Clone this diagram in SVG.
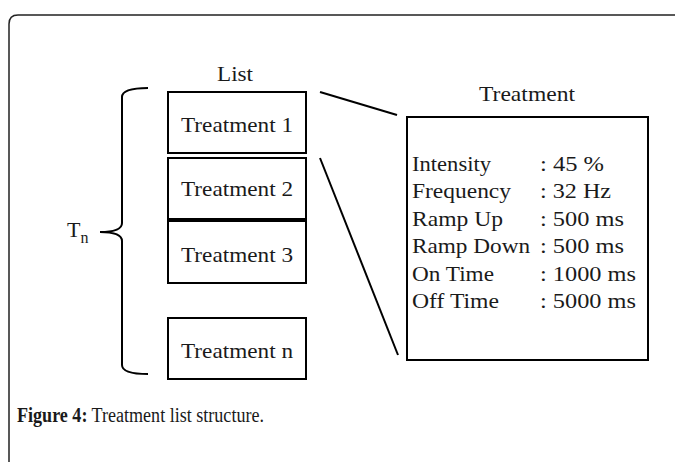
<svg xmlns="http://www.w3.org/2000/svg" width="675" height="462" viewBox="0 0 675 462">
  <style>
    .txt { font-family: "Liberation Serif", "Times New Roman", serif; font-size: 22px; fill: #1a1a1a; }
    .mid { text-anchor: middle; }
    .box { fill: #ffffff; stroke: #000000; stroke-width: 2; }
    .ln { fill: none; stroke: #000000; stroke-width: 2; }
    .cap { font-family: "Liberation Serif", "Times New Roman", serif; font-size: 20px; fill: #1a1a1a; }
  </style>

  <rect x="0" y="0" width="675" height="462" fill="#ffffff"/>

  <!-- panel frame (top and left edges visible) -->
  <path d="M9,470 L9,24 Q9,15 18,15 L690,15" fill="none" stroke="#222222" stroke-width="1.5"/>

  <!-- list heading -->
  <text class="txt mid" x="235" y="81" font-size="20" textLength="36" lengthAdjust="spacingAndGlyphs">List</text>

  <!-- connectors: brace and zoom lines -->
  <g id="connectors">
    <path class="ln" d="M148,88 Q122,88 122,97 L122,223 Q122,232 100,232 Q122,232 122,241 L122,365 Q122,374 148,374"/>
    <line class="ln" x1="320" y1="92" x2="397" y2="115"/>
    <line class="ln" x1="320" y1="158" x2="398" y2="355"/>
  </g>

  <g id="tn-label">
    <text class="txt" x="67" y="237" font-size="19">T<tspan font-size="16" dy="6">n</tspan></text>
  </g>

  <g id="treatment-1">
    <rect class="box" x="168" y="92" width="138" height="61"/>
    <text class="txt mid" x="237" y="132" textLength="112" lengthAdjust="spacingAndGlyphs">Treatment 1</text>
  </g>
  <g id="treatment-2">
    <rect class="box" x="168" y="158" width="138" height="62"/>
    <text class="txt mid" x="237" y="196" textLength="112" lengthAdjust="spacingAndGlyphs">Treatment 2</text>
  </g>
  <g id="treatment-3">
    <rect class="box" x="168" y="220" width="138" height="63"/>
    <line x1="167" y1="220" x2="307" y2="220" stroke="#000000" stroke-width="4"/>
    <text class="txt mid" x="237" y="262" textLength="112" lengthAdjust="spacingAndGlyphs">Treatment 3</text>
  </g>
  <g id="treatment-n">
    <rect class="box" x="168" y="318" width="138" height="61"/>
    <text class="txt mid" x="237" y="358" textLength="112" lengthAdjust="spacingAndGlyphs">Treatment n</text>
  </g>

  <g id="treatment-detail">
    <text class="txt mid" x="527" y="101" font-size="20" textLength="96" lengthAdjust="spacingAndGlyphs">Treatment</text>
    <rect class="box" x="407" y="117" width="241" height="243"/>
    <g class="txt">
      <text x="412" y="171" textLength="79" lengthAdjust="spacingAndGlyphs">Intensity</text>
      <text x="412" y="198" textLength="99" lengthAdjust="spacingAndGlyphs">Frequency</text>
      <text x="412" y="226" textLength="91" lengthAdjust="spacingAndGlyphs">Ramp Up</text>
      <text x="412" y="253" textLength="118" lengthAdjust="spacingAndGlyphs">Ramp Down</text>
      <text x="412" y="281" textLength="82" lengthAdjust="spacingAndGlyphs">On Time</text>
      <text x="412" y="308" textLength="87" lengthAdjust="spacingAndGlyphs">Off Time</text>
      <text x="540" y="171" textLength="64" lengthAdjust="spacingAndGlyphs">: 45 %</text>
      <text x="540" y="198" textLength="71" lengthAdjust="spacingAndGlyphs">: 32 Hz</text>
      <text x="540" y="226" textLength="84" lengthAdjust="spacingAndGlyphs">: 500 ms</text>
      <text x="540" y="253" textLength="84" lengthAdjust="spacingAndGlyphs">: 500 ms</text>
      <text x="540" y="281" textLength="96" lengthAdjust="spacingAndGlyphs">: 1000 ms</text>
      <text x="540" y="308" textLength="96" lengthAdjust="spacingAndGlyphs">: 5000 ms</text>
    </g>
  </g>

  <!-- caption -->
  <text class="cap" x="17" y="422" textLength="247" lengthAdjust="spacingAndGlyphs"><tspan font-weight="bold">Figure 4:</tspan> Treatment list structure.</text>
</svg>
